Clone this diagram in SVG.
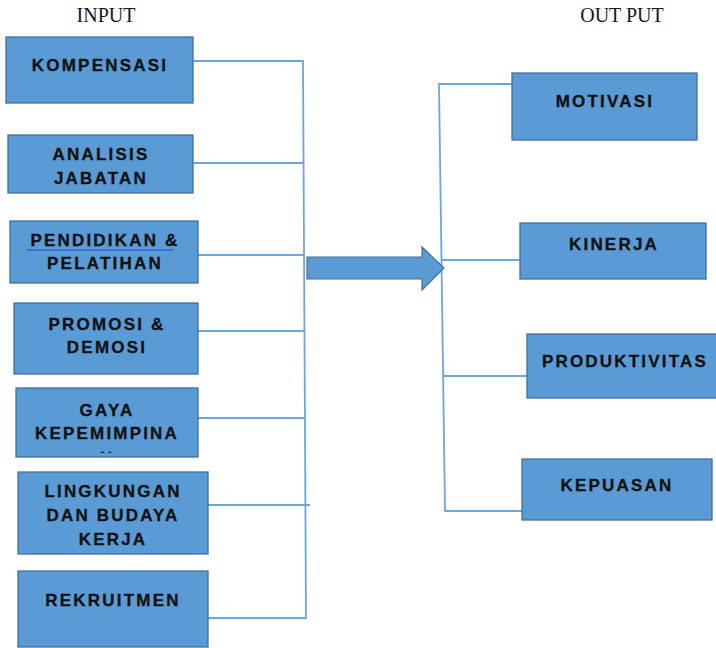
<svg xmlns="http://www.w3.org/2000/svg" width="716" height="648" viewBox="0 0 716 648">
  <style>
    .box { fill: #5b9bd5; stroke: #41719c; stroke-width: 1.3; }
    .lbl { font-family: "Liberation Sans", Arial, sans-serif; font-weight: bold; font-size: 17px; letter-spacing: 2.2px; fill: #111; stroke: #111; stroke-width: 0.3; text-anchor: middle; }
    .head { font-family: "Liberation Serif", "Times New Roman", serif; font-size: 20px; fill: #141428; text-anchor: middle; }
    .link { fill: none; stroke: #6ea6dc; stroke-width: 1.8; }
  </style>
  <defs>
    <clipPath id="clip-gaya">
      <rect x="16" y="388" width="182" height="65"/>
    </clipPath>
  </defs>

  <rect width="716" height="648" fill="#ffffff"/>

  <!-- column headings -->
  <text class="head" x="106" y="22">INPUT</text>
  <text class="head" x="622" y="22">OUT PUT</text>

  <!-- connectors -->
  <g id="connectors">
    <polyline class="link" points="193,61 303,61 306,618 208,618"/>
    <line class="link" x1="193" y1="163" x2="304" y2="163"/>
    <line class="link" x1="198" y1="255" x2="304" y2="255"/>
    <line class="link" x1="198" y1="331" x2="304" y2="331"/>
    <line class="link" x1="198" y1="418" x2="305" y2="418"/>
    <line class="link" x1="208" y1="505" x2="310" y2="505"/>
    <polyline class="link" points="512,84 439,84 445,511 522,511"/>
    <line class="link" x1="442" y1="260" x2="520" y2="260"/>
    <line class="link" x1="444" y1="376" x2="527" y2="376"/>
    <!-- main flow arrow -->
    <polygon points="307,257 422,257 422,247 444,268 422,290 422,279 307,279" fill="#5b9bd5" stroke="#41719c" stroke-width="1.2"/>
  </g>

  <!-- input nodes -->
  <g id="kompensasi">
    <rect class="box" x="6" y="37" width="187" height="66"/>
    <text class="lbl" x="100" y="71">KOMPENSASI</text>
  </g>
  <g id="analisis-jabatan">
    <rect class="box" x="8" y="135" width="185" height="58"/>
    <text class="lbl" x="101" y="160">ANALISIS</text>
    <text class="lbl" x="101" y="184">JABATAN</text>
  </g>
  <g id="pendidikan-pelatihan">
    <rect class="box" x="10" y="221" width="188" height="62"/>
    <line x1="27" y1="250" x2="174" y2="250" stroke="#3a6ee0" stroke-width="2.2"/>
    <text class="lbl" x="105" y="246">PENDIDIKAN &amp;</text>
    <text class="lbl" x="105" y="269">PELATIHAN</text>
  </g>
  <g id="promosi-demosi">
    <rect class="box" x="14" y="303" width="184" height="71"/>
    <text class="lbl" x="107" y="330">PROMOSI &amp;</text>
    <text class="lbl" x="107" y="353">DEMOSI</text>
  </g>
  <g id="gaya-kepemimpinan">
    <rect class="box" x="16" y="388" width="182" height="69"/>
    <g clip-path="url(#clip-gaya)">
      <text class="lbl" x="107" y="416">GAYA</text>
      <text class="lbl" x="107" y="439">KEPEMIMPINA</text>
      <text class="lbl" x="107" y="464">N</text>
    </g>
  </g>
  <g id="lingkungan-budaya">
    <rect class="box" x="18" y="472" width="190" height="82"/>
    <text class="lbl" x="113" y="497">LINGKUNGAN</text>
    <text class="lbl" x="113" y="521">DAN BUDAYA</text>
    <text class="lbl" x="113" y="545">KERJA</text>
  </g>
  <g id="rekruitmen">
    <rect class="box" x="18" y="571" width="190" height="76"/>
    <text class="lbl" x="113" y="606">REKRUITMEN</text>
  </g>

  <!-- output nodes -->
  <g id="motivasi">
    <rect class="box" x="512" y="73" width="185" height="67"/>
    <text class="lbl" x="605" y="107">MOTIVASI</text>
  </g>
  <g id="kinerja">
    <rect class="box" x="520" y="223" width="186" height="56"/>
    <text class="lbl" x="614" y="250">KINERJA</text>
  </g>
  <g id="produktivitas">
    <rect class="box" x="527" y="334" width="196" height="64"/>
    <text class="lbl" x="625" y="367">PRODUKTIVITAS</text>
  </g>
  <g id="kepuasan">
    <rect class="box" x="522" y="459" width="190" height="61"/>
    <text class="lbl" x="617" y="491">KEPUASAN</text>
  </g>
</svg>
